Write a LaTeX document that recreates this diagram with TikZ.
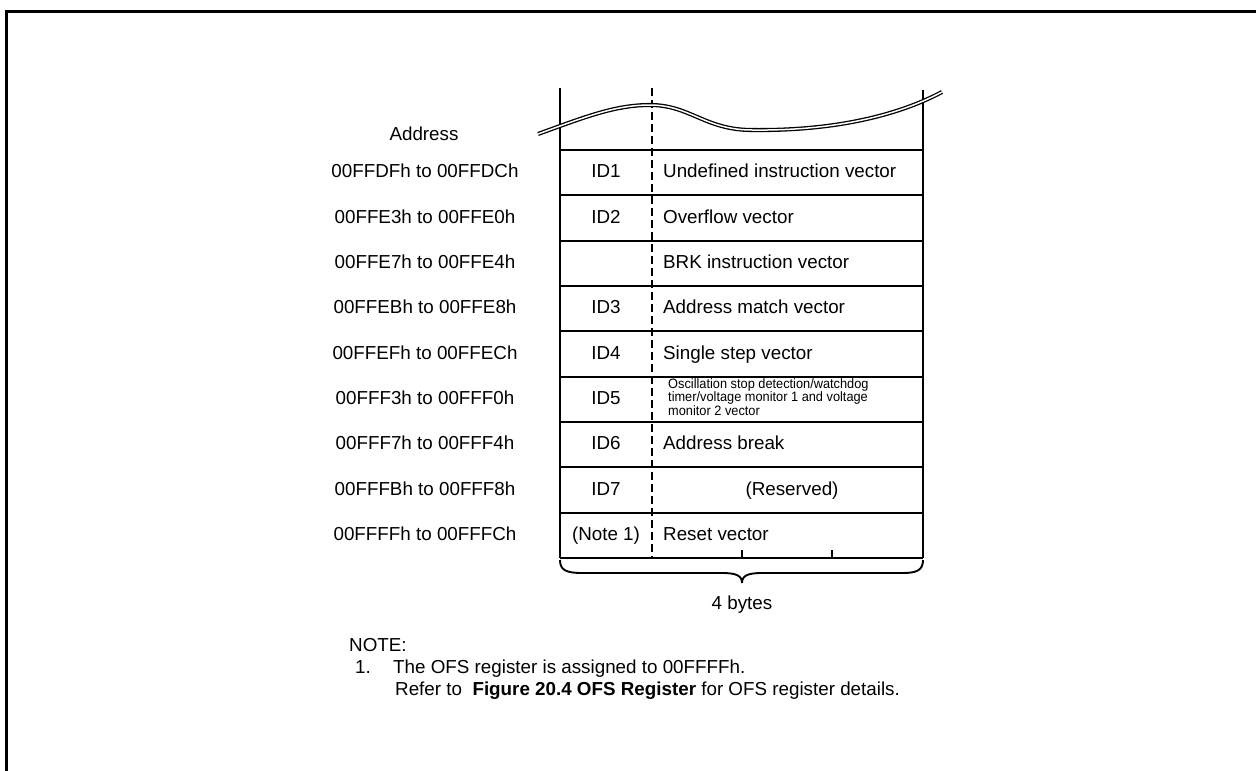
\documentclass[tikz,border=0pt]{standalone}
\usepackage{graphicx}
\usepackage{fontspec}
\setmainfont{Liberation Sans}
\begin{document}
\begin{tikzpicture}[x=1pt,y=-1pt,
  txt/.style={font=\fontsize{18.8}{22}\selectfont, inner sep=0pt},
  smalltxt/.style={font=\fontsize{13.6}{13.4}\selectfont, inner sep=0pt},
  tline/.style={line width=1.9pt},
  divider/.style={line width=2.9pt, dash pattern=on 8pt off 4pt},
  frameline/.style={line width=3pt},
  wave/.style={double, line width=1.3pt, double distance=1.5pt}]
\useasboundingbox (0,0) rectangle (1256,771);
% outer frame (left and top edges)
\coordinate (fbl) at (6.5,771);
\coordinate (ftl) at (6.5,11.5);
\coordinate (ftr) at (1256,11.5);
\draw[frameline] (fbl) -- (ftl) -- (ftr);
% table columns
\coordinate (lt) at (560,88);  \coordinate (lb) at (560,558);
\coordinate (dt) at (652,88);  \coordinate (db) at (652,558);
\coordinate (rt) at (923,90);  \coordinate (rb) at (923,558);
\draw[tline] (lt) -- (lb);
\draw[tline] (rt) -- (rb);
\draw[divider] (dt) -- (db);
% rows
\foreach \i in {0,...,9}{
  \coordinate (rowl\i) at (560,{150+45.33*\i});
  \coordinate (rowr\i) at (923,{150+45.33*\i});
  \draw[tline] (rowl\i) -- (rowr\i);
}
% ticks
\coordinate (t1a) at (742,550); \coordinate (t1b) at (742,558);
\coordinate (t2a) at (832,550); \coordinate (t2b) at (832,558);
\draw[tline] (t1a) -- (t1b);
\draw[tline] (t2a) -- (t2b);
% wave
\coordinate (w0) at (538,134);
\coordinate (w1) at (650,105);
\coordinate (w2) at (752,130);
\coordinate (w3) at (942,92);
\draw[wave] (w0) .. controls (585,117) and (615,105) .. (w1)
  .. controls (690,105) and (705,130) .. (w2)
  .. controls (830,131) and (895,117) .. (w3);
% addresses
\node[txt, anchor=base] (addrhead) at (424,140) {Address};
\foreach \a [count=\i from 0] in {00FFDFh to 00FFDCh,00FFE3h to 00FFE0h,00FFE7h to 00FFE4h,00FFEBh to 00FFE8h,00FFEFh to 00FFECh,00FFF3h to 00FFF0h,00FFF7h to 00FFF4h,00FFFBh to 00FFF8h,00FFFFh to 00FFFCh}{
  \node[txt, anchor=base] (addr\i) at (425,{172.7+45.33*\i+5}) {\a};
}
% ID column
\foreach \a [count=\i from 0] in {ID1,ID2,{},ID3,ID4,ID5,ID6,ID7,(Note 1)}{
  \node[txt, anchor=base] (id\i) at (606,{172.7+45.33*\i+5}) {\a};
}
% content column
\node[txt, anchor=base west] (c0) at (663,{172.7+5}) {Undefined instruction vector};
\node[txt, anchor=base west] (c1) at (663,{172.7+45.33+5}) {Overflow vector};
\node[txt, anchor=base west] (c2) at (663,{172.7+2*45.33+5}) {BRK instruction vector};
\node[txt, anchor=base west] (c3) at (663,{172.7+3*45.33+5}) {Address match vector};
\node[txt, anchor=base west] (c4) at (663,{172.7+4*45.33+5}) {Single step vector};
\node[smalltxt, anchor=west] (c5) at (668,399) {\scalebox{0.94}[1]{\begin{tabular}{@{}l@{}}Oscillation stop detection/watchdog\\timer/voltage monitor 1 and voltage\\monitor 2 vector\end{tabular}}};
\node[txt, anchor=base west] (c6) at (663,{172.7+6*45.33+5}) {Address break};
\node[txt, anchor=base] (c7) at (792,{172.7+7*45.33+5}) {(Reserved)};
\node[txt, anchor=base west] (c8) at (663,{172.7+8*45.33+5}) {Reset vector};
% brace
\coordinate (bl) at (560,560);
\coordinate (bm) at (742,583);
\coordinate (br) at (923,560);
\draw[tline] (bl) .. controls (560,570) and (566,573) .. (582,573) -- (722,573)
  .. controls (737,573) and (742,576) .. (bm)
  .. controls (742,576) and (747,573) .. (762,573) -- (903,573)
  .. controls (917,573) and (923,570) .. (br);
\node[txt, anchor=base] (bytes) at (742,609) {4 bytes};
% notes
\node[txt, anchor=base west] (note) at (349,651) {NOTE:};
\node[txt, anchor=base west] (n1num) at (355,673) {1.};
\node[txt, anchor=base west] (n1) at (393,673) {The OFS register is assigned to 00FFFFh.};
\node[txt, anchor=base west] (n2) at (395,695) {Refer to\ \ \textbf{Figure 20.4 OFS Register} for OFS register details.};
\end{tikzpicture}
\end{document}
